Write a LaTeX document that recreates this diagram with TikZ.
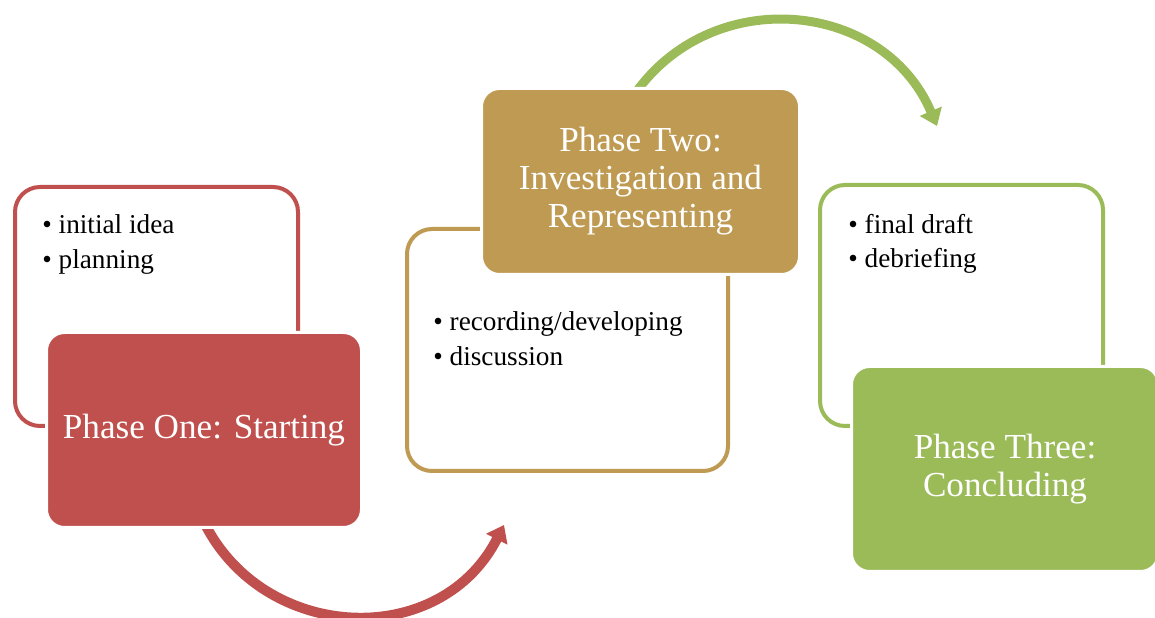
\documentclass[tikz,border=0pt]{standalone}
\usepackage{fontspec}
\setmainfont{Liberation Serif}
\usetikzlibrary{arrows.meta}

\definecolor{phasered}{HTML}{C0504D}
\definecolor{phasetan}{HTML}{BE9A52}
\definecolor{phasegreen}{HTML}{9BBB59}

\tikzset{
  outbox/.style={draw=#1,line width=0.08cm,fill=white,rounded corners=0.5cm,minimum width=5.66cm,minimum height=4.78cm},
  fillbox/.style={draw=white,line width=0.06cm,fill=#1,rounded corners=0.36cm,text=white,align=center,font=\fontsize{20}{21.6}\selectfont},
  bullets/.style={anchor=north west,inner sep=0pt,align=left,font=\fontsize{15.5}{19.9}\selectfont},
  cyclearrow/.style={draw=#1,line width=0.2cm,-{Triangle[length=0.32cm,width=0.46cm]}}
}

\begin{document}
\begin{tikzpicture}

\useasboundingbox (0,0) rectangle (23.1,12.36);

\coordinate (a1start) at (3.92,2.29);
\coordinate (a1end) at (10.08,1.86);
\coordinate (a2start) at (12.59,10.32);
\coordinate (a2end) at (18.74,9.84);

\draw[cyclearrow=phasered] (a1start) to[out=-70,in=-117,looseness=1.22] (a1end);
\draw[cyclearrow=phasegreen,line width=0.18cm] (a2start) to[out=58,in=113,looseness=1.165] (a2end);

\node[outbox=phasered] (p1out) at (3.13,6.23) {};
\node[outbox=phasetan,minimum width=6.42cm,minimum height=4.84cm] (p2out) at (11.35,5.36) {};
\node[outbox=phasegreen,minimum height=4.82cm] (p3out) at (19.23,6.25) {};

\node[bullets] (p1list) at (0.84,8.07) {\textbullet\ initial idea\\\textbullet\ planning};
\node[bullets] (p2list) at (8.66,6.13) {\textbullet\ recording/developing\\\textbullet\ discussion};
\node[bullets] (p3list) at (16.96,8.09) {\textbullet\ final draft\\\textbullet\ debriefing};

\node[fillbox=phasered,minimum width=6.3cm,minimum height=3.9cm] (p1fill) at (4.08,3.76) {Phase One: Starting};
\node[fillbox=phasetan,minimum width=6.36cm,minimum height=3.72cm] (p2fill) at (12.81,8.73) {Phase Two:\\Investigation and\\Representing};
\node[fillbox=phasegreen,minimum width=6.14cm,minimum height=4.1cm] (p3fill) at (20.1,2.98) {Phase Three:\\Concluding};

\end{tikzpicture}
\end{document}
